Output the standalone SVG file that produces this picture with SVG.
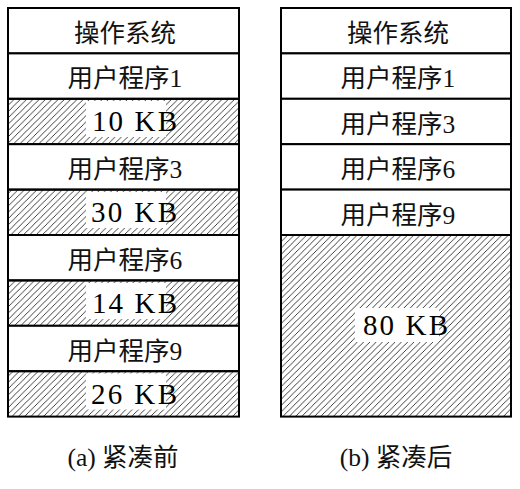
<svg xmlns="http://www.w3.org/2000/svg" width="520" height="489" viewBox="0 0 520 489">
  <defs>
    <!-- thin diagonal hatching for free memory blocks -->
    <pattern id="hatch" patternUnits="userSpaceOnUse" width="6.3" height="6.3">
      <path d="M-1,1 L1,-1 M0,6.3 L6.3,0 M5.3,7.3 L7.3,5.3" stroke="#000" stroke-width="0.75"/>
    </pattern>
  </defs>
  <style>
    .cell { fill: #fff; stroke: #000; stroke-width: 2; }
    .free { fill: url(#hatch); stroke: #000; stroke-width: 2; }
    .pad  { fill: #fff; }
    .lbl  { font-family: "Liberation Serif", "Noto Sans CJK SC", serif; font-size: 25.5px; fill: #111; text-anchor: middle; }
    .size { font-family: "Liberation Serif", "Noto Sans CJK SC", serif; font-size: 29px; fill: #000; }
    .cap  { font-family: "Liberation Serif", "Noto Sans CJK SC", serif; font-size: 25.5px; fill: #111; text-anchor: middle; }
  </style>

  <!-- (a) memory before compaction -->
  <g id="before">
    <g id="a-os"><rect class="cell" x="8" y="8" width="231" height="45.4"/><text class="lbl" x="125" y="41.5">操作系统</text></g>
    <g id="a-p1"><rect class="cell" x="8" y="53.4" width="231" height="45.4"/><text class="lbl" x="125" y="87">用户程序1</text></g>
    <g id="a-f10"><rect class="free" x="8" y="98.8" width="231" height="45.4"/><rect class="pad" x="86" y="101" width="80" height="36"/><text class="size" x="92" y="131" textLength="85" lengthAdjust="spacing">10 KB</text></g>
    <g id="a-p3"><rect class="cell" x="8" y="144.2" width="231" height="45.4"/><text class="lbl" x="125" y="178">用户程序3</text></g>
    <g id="a-f30"><rect class="free" x="8" y="189.6" width="231" height="45.4"/><rect class="pad" x="86" y="192" width="80" height="36"/><text class="size" x="91" y="222" textLength="86" lengthAdjust="spacing">30 KB</text></g>
    <g id="a-p6"><rect class="cell" x="8" y="235" width="231" height="45.4"/><text class="lbl" x="125" y="269">用户程序6</text></g>
    <g id="a-f14"><rect class="free" x="8" y="280.4" width="231" height="45.4"/><rect class="pad" x="86" y="283" width="80" height="36"/><text class="size" x="92" y="312.5" textLength="85" lengthAdjust="spacing">14 KB</text></g>
    <g id="a-p9"><rect class="cell" x="8" y="325.8" width="231" height="45.4"/><text class="lbl" x="125" y="359.5">用户程序9</text></g>
    <g id="a-f26"><rect class="free" x="8" y="371.2" width="231" height="45.4"/><rect class="pad" x="86" y="373.5" width="80" height="36"/><text class="size" x="91" y="403.5" textLength="86" lengthAdjust="spacing">26 KB</text></g>
    <text class="cap" x="123" y="466">(a) 紧凑前</text>
  </g>

  <!-- (b) memory after compaction -->
  <g id="after">
    <g id="b-os"><rect class="cell" x="281" y="8" width="230" height="45.4"/><text class="lbl" x="398" y="41.5">操作系统</text></g>
    <g id="b-p1"><rect class="cell" x="281" y="53.4" width="230" height="45.4"/><text class="lbl" x="398" y="87">用户程序1</text></g>
    <g id="b-p3"><rect class="cell" x="281" y="98.8" width="230" height="45.4"/><text class="lbl" x="398" y="132.5">用户程序3</text></g>
    <g id="b-p6"><rect class="cell" x="281" y="144.2" width="230" height="45.4"/><text class="lbl" x="398" y="178">用户程序6</text></g>
    <g id="b-p9"><rect class="cell" x="281" y="189.6" width="230" height="45.4"/><text class="lbl" x="398" y="223.5">用户程序9</text></g>
    <g id="b-f80"><rect class="free" x="281" y="235" width="230" height="181.6"/><rect class="pad" x="355" y="308" width="84" height="34"/><text class="size" x="363" y="335" textLength="85" lengthAdjust="spacing">80 KB</text></g>
    <text class="cap" x="396" y="466">(b) 紧凑后</text>
  </g>
</svg>
